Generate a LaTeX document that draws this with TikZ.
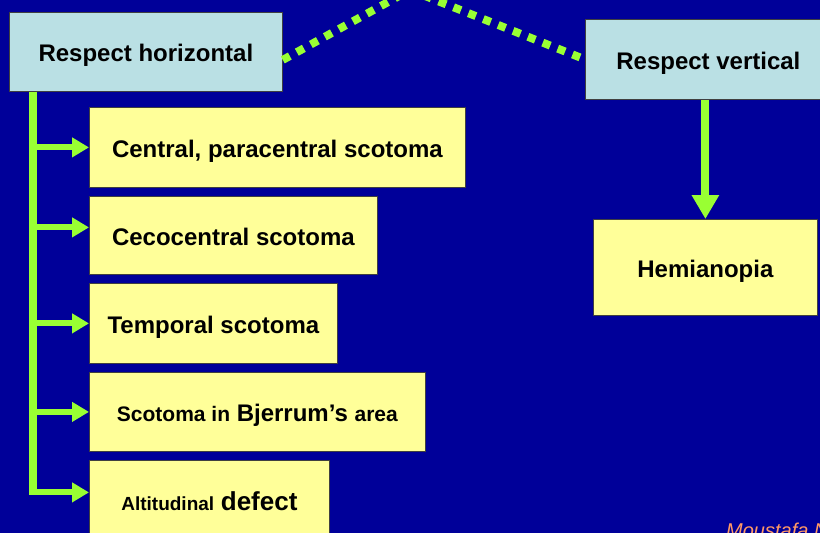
\documentclass[tikz,border=0pt]{standalone}
\usepackage{fontspec}
\setmainfont{Liberation Sans}
\usetikzlibrary{arrows.meta}
\definecolor{bg}{RGB}{0,0,153}
\definecolor{lime}{RGB}{153,255,51}
\definecolor{pale}{RGB}{255,255,153}
\definecolor{ice}{RGB}{186,224,228}
\definecolor{wmcol}{RGB}{255,153,102}
\begin{document}
\begin{tikzpicture}[x=1pt,y=-1pt,
  box/.style={draw=black!75, line width=0.8pt, inner sep=0pt, anchor=north west,
    font=\bfseries\fontsize{24}{28}\selectfont, align=center, text height=20pt, text depth=0pt},
  headbox/.style={box, fill=ice},
  leafbox/.style={box, fill=pale},
  dots/.style={draw=lime, line width=8pt, dash pattern=on 8pt off 8pt},
  trunk/.style={draw=lime, line width=8pt},
  branch/.style={draw=lime, line width=6pt, -{Triangle[length=17pt,width=19pt]}},
  vbranch/.style={draw=lime, line width=8pt, -{Triangle[length=24pt,width=26pt]}}]
\fill[bg] (0,0) rectangle (820,533);
\useasboundingbox (0,0) rectangle (820,533);

\node[headbox, minimum width=273pt, minimum height=79pt] (rh) at (9,12) {Respect horizontal};
\node[headbox, minimum width=246pt, minimum height=80pt] (rv) at (585,19) {Respect vertical};

\node[leafbox, minimum width=376pt, minimum height=80pt] (b1) at (89,107) {Central, paracentral scotoma};
\node[leafbox, minimum width=288pt, minimum height=78pt] (b2) at (89,196) {Cecocentral scotoma};
\node[leafbox, minimum width=248pt, minimum height=80pt] (b3) at (89,283) {Temporal scotoma};
\node[leafbox, minimum width=336pt, minimum height=79pt] (b4) at (89,372) {{\fontsize{21}{24}\selectfont Scotoma in} Bjerrum’s {\fontsize{21}{24}\selectfont area}};
\node[leafbox, minimum width=240pt, minimum height=80pt] (b5) at (89,460) {{\fontsize{19}{24}\selectfont Altitudinal} {\fontsize{26}{28}\selectfont defect}};
\node[leafbox, minimum width=224pt, minimum height=96pt] (hemi) at (593,219) {Hemianopia};

\coordinate (apex) at (410,-10);
\draw[dots] ([yshift=-8pt]rh.east) -- (apex) -- (rv.west);

\coordinate (t0) at ([xshift=24pt]rh.south west);
\coordinate (a2) at ([yshift=8pt]b2.west);
\coordinate (a5) at ([yshift=8pt]b5.west);
\draw[trunk] (t0) -- (t0 |- a5);
\draw[branch] (t0 |- b1.west) -- (b1.west);
\draw[branch] (t0 |- a2) -- (a2);
\draw[branch] (t0 |- b3.west) -- (b3.west);
\draw[branch] (t0 |- b4.west) -- (b4.west);
\draw[branch] ([xshift=-4pt]t0 |- a5) -- (a5);

\draw[vbranch] (rv.south -| hemi.north) -- (hemi.north);

\node[anchor=base west, inner sep=0pt, text=wmcol, font=\itshape\fontsize{20}{24}\selectfont] (wm) at (726,537) {Moustafa N};
\end{tikzpicture}
\end{document}
